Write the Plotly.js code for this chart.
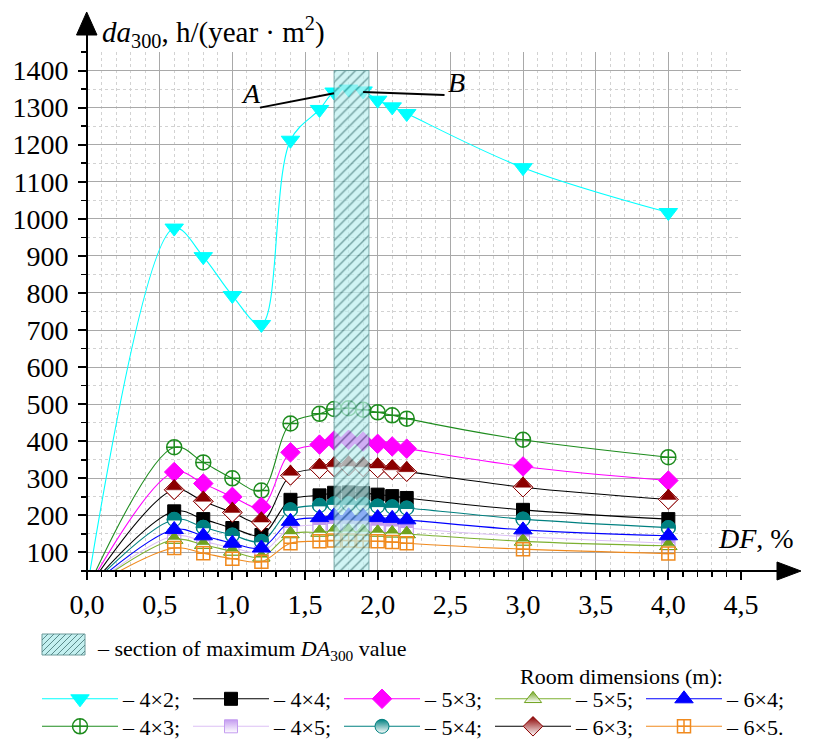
<!DOCTYPE html>
<html><head><meta charset="utf-8">
<script src="https://cdn.plot.ly/plotly-3.0.1.min.js"></script>
<style>html,body{margin:0;padding:0;background:#fff}</style>
</head><body><div id="chart" style="width:816px;height:743px"></div>
<script>
// ---- data ----
const DF = [0, 0.6, 0.8, 1.0, 1.2, 1.4, 1.6, 1.7, 1.8, 1.9, 2.0, 2.1, 2.2, 3.0, 4.0];
const room_4x2 = [0, 975, 898, 793, 715, 1212, 1295, 1342, 1350, 1345, 1320, 1302, 1284, 1138, 1017];
const room_4x3 = [0, 384, 343, 300, 267, 448, 474, 487, 489, 485, 478, 470, 461, 404, 357];
const room_4x4 = [0, 211, 190, 166, 147, 242, 254, 261, 262, 260, 256, 252, 247, 215, 190];
const room_4x5 = [0, 145, 130, 113, 100, 166, 174, 177, 177, 176, 172, 170, 166, 143, 125];
const room_5x3 = [0, 317, 286, 250, 223, 370, 391, 402, 404, 399, 393, 386, 380, 332, 294];
const room_5x4 = [0, 189, 168, 147, 130, 215, 227, 231, 231, 230, 225, 223, 220, 190, 167];
const room_5x5 = [0, 135, 121, 103, 87, 150, 154, 157, 157, 156, 154, 152, 150, 130, 118];
const room_6x3 = [0, 269, 238, 208, 182, 308, 326, 331, 333, 331, 328, 323, 318, 276, 243];
const room_6x4 = [0, 162, 145, 125, 112, 184, 194, 199, 199, 198, 194, 192, 188, 161, 145];
const room_6x5 = [0, 112, 98, 83, 75, 125, 130, 132, 132, 131, 130, 128, 125, 109, 97];

const xTickVals = [0, 0.5, 1.0, 1.5, 2.0, 2.5, 3.0, 3.5, 4.0, 4.5];
const xTickText = ['0,0', '0,5', '1,0', '1,5', '2,0', '2,5', '3,0', '3,5', '4,0', '4,5'];
const sectionDF = [1.7, 1.94];      // hatched section of maximum DA300
const sectionTop = 1400;
const pointA = [1.7, 1342];
const pointB = [1.9, 1345];

// ---- styling ----
const W = 816, H = 743;
const fx = p => p / W;
const fy = p => 1 - p / H;
const X_RANGE = [0, 4.5], Y_RANGE = [50, 1450];
const FONT = 'Liberation Serif, Times New Roman, serif';

const series = [
  {name: '– 4×2;', y: room_4x2, color: '#00ffff', line: '#00ffff', symbol: 'triangle-down', size: 16, legend: 'legend',  rank: 1},
  {name: '– 4×3;', y: room_4x3, color: '#1e8c1e', line: '#1e8c1e', symbol: 'circle-cross-open', size: 15, legend: 'legend2', rank: 1},
  {name: '– 4×4;', y: room_4x4, color: '#000000', line: '#000000', symbol: 'square', size: 13, legend: 'legend',  rank: 2},
  {name: '– 4×5;', y: room_4x5, color: '#c49cf0', line: '#dcc0f5', symbol: 'square', size: 13, half: true, legend: 'legend2', rank: 2},
  {name: '– 5×3;', y: room_5x3, color: '#ff00ff', line: '#ff00ff', symbol: 'diamond', size: 15, legend: 'legend',  rank: 3},
  {name: '– 5×4;', y: room_5x4, color: '#008080', line: '#008080', symbol: 'circle', size: 14, half: true, legend: 'legend2', rank: 3},
  {name: '– 5×5;', y: room_5x5, color: '#6fa21e', line: '#7cb030', symbol: 'triangle-up', size: 15, half: true, legend: 'legend',  rank: 4},
  {name: '– 6×3;', y: room_6x3, color: '#8b0000', line: '#000000', symbol: 'diamond', size: 15, half: true, legend: 'legend2', rank: 4},
  {name: '– 6×4;', y: room_6x4, color: '#0000ff', line: '#0000ff', symbol: 'triangle-up', size: 16, legend: 'legend',  rank: 5},
  {name: '– 6×5.', y: room_6x5, color: '#f08a1e', line: '#f08a1e', symbol: 'square-cross-open', size: 13, legend: 'legend2', rank: 5}
];

function markerOnly(s, marker) {
  return {type: 'scatter', mode: 'markers', x: DF, y: s.y, showlegend: false, hoverinfo: 'skip',
          xaxis: 'x', yaxis: 'y', marker: marker};
}

// half-filled marker overlays (top half coloured, bottom half white)
function halfOverlays(s) {
  const S = s.size, c = s.color, out = [];
  if (s.symbol === 'diamond') {
    out.push(markerOnly(s, {symbol: 'diamond', size: S, color: '#ffffff', line: {color: c, width: 1}}));
    const r2 = 0.47 * S;
    out.push(markerOnly(s, {symbol: 'triangle-down', angle: 180, standoff: r2 / 2, size: 2 * r2, color: c, line: {color: c, width: 0.5}}));
  } else if (s.symbol === 'triangle-up') {
    out.push(markerOnly(s, {symbol: 'triangle-up', size: S, color: '#ffffff', line: {color: c, width: 1}}));
    out.push(markerOnly(s, {symbol: 'triangle-down', angle: 180, standoff: S / 6, size: 2 * S / 3, color: c, line: {color: c, width: 0.5}}));
  } else if (s.symbol === 'square') {
    out.push(markerOnly(s, {symbol: 'square', size: S, color: '#ffffff', line: {color: c, width: 1}}));
    out.push(markerOnly(s, {symbol: 'line-ew', angle: 180, standoff: S / 4, size: S / 1.4, color: c, line: {color: c, width: S / 2}}));
  } else if (s.symbol === 'circle') {
    out.push(markerOnly(s, {symbol: 'circle', size: S, color: c, line: {color: c, width: 0}}));
    out.push(markerOnly(s, {symbol: 'line-ew', angle: 0, standoff: S / 4 + 0.5, size: (S - 2) / 1.4, color: '#ffffff', line: {color: '#ffffff', width: S / 2 - 1}}));
    out.push(markerOnly(s, {symbol: 'circle-open', size: S, color: c, line: {color: c, width: 1.2}}));
  }
  return out;
}

const traces = [];
series.forEach(s => {
  const marker = {symbol: s.symbol, size: s.size, color: s.color, line: {color: s.color, width: 1}};
  if (s.symbol.endsWith('-open')) marker.line.width = 1.5;
  if (s.half) marker.gradient = {type: 'vertical', color: '#ffffff'};
  traces.push({
    type: 'scatter', mode: 'lines+markers', x: DF, y: s.y, name: s.name,
    legend: s.legend, legendrank: s.rank,
    line: {color: s.line, width: 1.1, shape: 'spline', smoothing: 1},
    marker: marker, xaxis: 'x', yaxis: 'y', hoverinfo: 'skip'
  });
  if (s.half) halfOverlays(s).forEach(t => traces.push(t));
});

traces.push({
  type: 'bar', x: [(sectionDF[0] + sectionDF[1]) / 2], width: [sectionDF[1] - sectionDF[0]],
  base: [Y_RANGE[0]], y: [sectionTop - Y_RANGE[0]], xaxis: 'x2', yaxis: 'y2',
  showlegend: false, opacity: 0.72, hoverinfo: 'skip',
  marker: {color: '#bff0f0', line: {color: '#4f9090', width: 1},
           pattern: {shape: '/', fgcolor: '#3c7c7c', bgcolor: '#bff0f0', size: 7, solidity: 0.2}}
});

// helper converting pixel paths to paper paths
function pPath(pts, close) {
  return pts.map((p, i) => (i ? 'L' : 'M') + fx(p[0]).toFixed(5) + ',' + fy(p[1]).toFixed(5)).join(' ') + (close ? ' Z' : '');
}

// legend swatch hatch for the section
const sw = {x0: 42, x1: 85, y0: 634, y1: 655};
let hatch = '';
for (let k = sw.x0 - (sw.y1 - sw.y0); k < sw.x1; k += 6) {
  let xa = k, ya = sw.y1, xb = k + (sw.y1 - sw.y0), yb = sw.y0;
  if (xa < sw.x0) { ya -= (sw.x0 - xa); xa = sw.x0; }
  if (xb > sw.x1) { yb += (xb - sw.x1); xb = sw.x1; }
  hatch += pPath([[xa, ya], [xb, yb]], false) + ' ';
}

const shapes = [
  // axes lines with arrows
  {type: 'line', xref: 'paper', yref: 'paper', x0: fx(87), x1: fx(87), y0: fy(578), y1: fy(30), line: {color: '#000', width: 2}},
  {type: 'line', xref: 'paper', yref: 'paper', x0: fx(87), x1: fx(780), y0: fy(571), y1: fy(571), line: {color: '#000', width: 2}},
  {type: 'path', xref: 'paper', yref: 'paper', path: pPath([[76.5, 35], [97, 35], [86.7, 12]], true), fillcolor: '#000', line: {color: '#000', width: 1}},
  {type: 'path', xref: 'paper', yref: 'paper', path: pPath([[777, 562], [801, 571], [777, 580]], true), fillcolor: '#000', line: {color: '#000', width: 1}},
  // A and B leader lines
  {type: 'line', xref: 'x', yref: 'y', x0: 1.19, y0: 1300, x1: pointA[0], y1: pointA[1] - 3, line: {color: '#000', width: 2}},
  {type: 'line', xref: 'x', yref: 'y', x0: pointB[0], y0: pointB[1] - 3, x1: 2.46, y1: 1334, line: {color: '#000', width: 2}},
  // section legend swatch
  {type: 'rect', xref: 'paper', yref: 'paper', x0: fx(sw.x0), x1: fx(sw.x1), y0: fy(sw.y1), y1: fy(sw.y0), fillcolor: '#c4f0f0', line: {color: '#6c9a9a', width: 1}},
  {type: 'path', xref: 'paper', yref: 'paper', path: hatch, line: {color: '#5a8a8a', width: 1}}
];

const annotations = [
  {xref: 'paper', yref: 'paper', x: fx(100), y: fy(32), xanchor: 'left', yanchor: 'middle', showarrow: false,
   text: '<i>da</i><sub>300</sub>, h/(year · m<sup>2</sup>)', font: {size: 29, family: FONT, color: '#000'}},
  {xref: 'paper', yref: 'paper', x: fx(716), y: fy(538), xanchor: 'left', yanchor: 'middle', showarrow: false,
   text: '<i>DF</i>, %', font: {size: 28, family: FONT, color: '#000'}},
  {xref: 'x', yref: 'y', x: 1.13, y: 1339, showarrow: false, text: '<i>A</i>', font: {size: 28, family: FONT, color: '#000'}},
  {xref: 'x', yref: 'y', x: 2.54, y: 1369, showarrow: false, text: '<i>B</i>', font: {size: 28, family: FONT, color: '#000'}},
  {xref: 'paper', yref: 'paper', x: fx(95), y: fy(650), xanchor: 'left', yanchor: 'middle', showarrow: false,
   text: '– section of maximum <i>DA</i><sub>300</sub> value', font: {size: 22, family: FONT, color: '#000'}},
  {xref: 'paper', yref: 'paper', x: fx(621), y: fy(676), xanchor: 'center', yanchor: 'middle', showarrow: false,
   text: 'Room dimensions (m):', font: {size: 22, family: FONT, color: '#000'}}
];

const legendCommon = {
  orientation: 'h', xanchor: 'left', yanchor: 'middle', xref: 'paper', yref: 'paper',
  font: {size: 22, family: FONT, color: '#000'}, bgcolor: 'rgba(0,0,0,0)', borderwidth: 0,
  itemwidth: 76, entrywidth: 60, entrywidthmode: 'pixels', traceorder: 'normal', itemclick: false, itemdoubleclick: false
};

const layout = {
  width: W, height: H, margin: {l: 0, r: 0, t: 0, b: 0, autoexpand: false},
  paper_bgcolor: '#fff', plot_bgcolor: '#fff',
  font: {family: FONT, color: '#000'},
  showlegend: true,
  legend: Object.assign({}, legendCommon, {x: fx(37), y: fy(699)}),
  legend2: Object.assign({}, legendCommon, {x: fx(37), y: fy(726.5)}),
  xaxis: {
    domain: [fx(87), fx(741)], range: X_RANGE, anchor: 'y',
    tickmode: 'array', tickvals: xTickVals, ticktext: xTickText,
    ticks: 'outside', ticklen: 8, tickwidth: 2, tickcolor: '#000',
    tickfont: {size: 28, family: FONT, color: '#000'},
    showgrid: true, gridcolor: '#a9a9a9', gridwidth: 1, zeroline: false, showline: false,
    minor: {tickmode: 'linear', tick0: 0, dtick: 0.1, ticks: 'outside', ticklen: 5, tickwidth: 1.5, tickcolor: '#000',
            showgrid: true, gridcolor: '#d2d2d2', griddash: 'dot', gridwidth: 1},
    fixedrange: true
  },
  yaxis: {
    domain: [fy(571), fy(52)], range: Y_RANGE, anchor: 'x',
    tickmode: 'linear', tick0: 0, dtick: 100,
    ticks: 'outside', ticklen: 8, tickwidth: 2, tickcolor: '#000', ticklabelstandoff: 4,
    tickfont: {size: 28, family: FONT, color: '#000'},
    showgrid: true, gridcolor: '#a9a9a9', gridwidth: 1, zeroline: false, showline: false,
    minor: {tickmode: 'linear', tick0: 0, dtick: 50, ticks: 'outside', ticklen: 5, tickwidth: 1.5, tickcolor: '#000',
            showgrid: true, gridcolor: '#d2d2d2', griddash: 'dot', gridwidth: 1},
    fixedrange: true
  },
  xaxis2: {overlaying: 'x', range: X_RANGE, visible: false, anchor: 'y2', fixedrange: true},
  yaxis2: {overlaying: 'y', range: Y_RANGE, visible: false, anchor: 'x2', fixedrange: true},
  shapes: shapes,
  annotations: annotations
};

Plotly.newPlot('chart', traces, layout, {staticPlot: true, displayModeBar: false});
</script>
</body></html>
